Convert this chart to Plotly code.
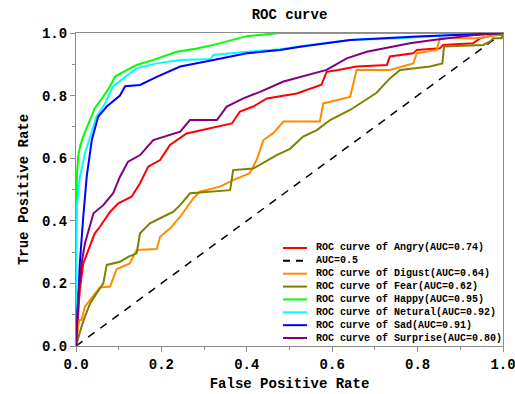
import plotly.graph_objects as go

# ---------------- data ----------------
classes = ["Angry", "Digust", "Fear", "Happy", "Netural", "Sad", "Surprise"]
auc_values = [0.74, 0.64, 0.62, 0.95, 0.92, 0.91, 0.80]
colors = ["red", "darkorange", "olive", "lime", "cyan", "blue", "purple"]

angry_fpr = [0, 0.004, 0.009, 0.017, 0.029, 0.044, 0.056, 0.08, 0.099, 0.13, 0.15, 0.169, 0.197, 0.22,
             0.259, 0.314, 0.365, 0.384, 0.415, 0.447, 0.517, 0.575, 0.587, 0.614, 0.657, 0.728, 0.735,
             0.79, 0.798, 0.852, 0.86, 0.93, 0.946, 1.0]
angry_tpr = [0, 0.08, 0.179, 0.264, 0.307, 0.36, 0.381, 0.429, 0.456, 0.477, 0.52, 0.573, 0.594, 0.642,
             0.679, 0.695, 0.711, 0.749, 0.765, 0.791, 0.807, 0.835, 0.876, 0.882, 0.893, 0.898, 0.925,
             0.935, 0.946, 0.951, 0.962, 0.967, 0.983, 1.0]

digust_fpr = [0, 0.003, 0.005, 0.008, 0.013, 0.021, 0.033, 0.056, 0.08, 0.095, 0.126, 0.142, 0.189, 0.197,
              0.22, 0.244, 0.275, 0.29, 0.337, 0.368, 0.407, 0.423, 0.431, 0.439, 0.462, 0.486, 0.571,
              0.579, 0.642, 0.657, 0.735, 0.79, 0.798, 0.845, 0.852, 0.938, 0.993, 1.0]
digust_tpr = [0, 0.04, 0.062, 0.083, 0.083, 0.126, 0.147, 0.187, 0.19, 0.245, 0.264, 0.307, 0.31, 0.349,
              0.375, 0.413, 0.472, 0.493, 0.509, 0.53, 0.552, 0.594, 0.626, 0.658, 0.68, 0.717, 0.717,
              0.775, 0.796, 0.882, 0.882, 0.903, 0.935, 0.946, 0.983, 0.983, 0.994, 1.0]

fear_fpr = [0, 0.005, 0.013, 0.021, 0.033, 0.048, 0.064, 0.072, 0.103, 0.122, 0.142, 0.15, 0.173, 0.204,
            0.228, 0.244, 0.267, 0.361, 0.368, 0.415, 0.47, 0.501, 0.532, 0.564, 0.595, 0.642, 0.665,
            0.704, 0.735, 0.759, 0.829, 0.858, 0.862, 0.954, 0.97, 0.977, 0.997, 1.0]
fear_tpr = [0, 0.025, 0.062, 0.094, 0.136, 0.168, 0.20, 0.259, 0.269, 0.285, 0.296, 0.36, 0.392, 0.413,
            0.429, 0.45, 0.488, 0.498, 0.562, 0.567, 0.61, 0.63, 0.669, 0.69, 0.722, 0.754, 0.775,
            0.809, 0.855, 0.882, 0.893, 0.903, 0.957, 0.962, 0.973, 0.983, 0.983, 1.0]

happy_fpr = [0, 0.0, 0.002, 0.005, 0.010, 0.017, 0.029, 0.044, 0.064, 0.08, 0.091, 0.111, 0.142, 0.181,
             0.236, 0.28, 0.322, 0.36, 0.40, 0.478, 1.0]
happy_tpr = [0, 0.30, 0.54, 0.605, 0.64, 0.67, 0.71, 0.76, 0.797, 0.83, 0.86, 0.876, 0.898, 0.914,
             0.94, 0.95, 0.962, 0.975, 0.99, 1.0, 1.0]

netural_fpr = [0, 0.0, 0.002, 0.009, 0.021, 0.033, 0.048, 0.068, 0.087, 0.111, 0.142, 0.189, 0.244,
               0.315, 0.322, 0.40, 0.478, 0.548, 0.642, 0.759, 0.876, 0.953, 1.0]
netural_tpr = [0, 0.2, 0.445, 0.54, 0.616, 0.67, 0.733, 0.775, 0.83, 0.855, 0.887, 0.903, 0.914,
               0.917, 0.93, 0.94, 0.948, 0.962, 0.978, 0.983, 0.994, 0.996, 1.0]

sad_fpr = [0, 0.002, 0.005, 0.009, 0.017, 0.025, 0.037, 0.052, 0.072, 0.103, 0.115, 0.15, 0.189, 0.244,
           0.322, 0.40, 0.478, 0.525, 0.642, 0.798, 0.953, 1.0]
sad_tpr = [0, 0.05, 0.16, 0.265, 0.413, 0.54, 0.658, 0.733, 0.765, 0.80, 0.83, 0.834, 0.86, 0.893,
           0.914, 0.935, 0.946, 0.956, 0.978, 0.989, 0.997, 1.0]

surprise_fpr = [0, 0.003, 0.005, 0.013, 0.021, 0.041, 0.064, 0.087, 0.103, 0.122, 0.15, 0.181, 0.22,
                0.244, 0.267, 0.33, 0.353, 0.392, 0.431, 0.486, 0.587, 0.634, 0.681, 0.782, 0.837,
                0.938, 0.993, 1.0]
surprise_tpr = [0, 0.08, 0.157, 0.264, 0.328, 0.424, 0.45, 0.488, 0.541, 0.589, 0.61, 0.658, 0.674,
                0.685, 0.722, 0.722, 0.765, 0.791, 0.812, 0.845, 0.882, 0.919, 0.94, 0.967, 0.978,
                0.994, 0.999, 1.0]

chance_fpr = [0, 1]
chance_tpr = [0, 1]
chance_label = "AUC=0.5"

curves_fpr = [angry_fpr, digust_fpr, fear_fpr, happy_fpr, netural_fpr, sad_fpr, surprise_fpr]
curves_tpr = [angry_tpr, digust_tpr, fear_tpr, happy_tpr, netural_tpr, sad_tpr, surprise_tpr]

x_ticks = [0.0, 0.2, 0.4, 0.6, 0.8, 1.0]
y_ticks = [0.0, 0.2, 0.4, 0.6, 0.8, 1.0]

# ---------------- figure ----------------
FONT = "Liberation Mono"
fig = go.Figure()

labels = []
for i, name in enumerate(classes):
    lab = f"ROC curve of {name}(AUC={auc_values[i]:.2f})"
    labels.append(lab)
    fig.add_trace(go.Scatter(x=curves_fpr[i], y=curves_tpr[i], mode="lines", name=lab,
                             line=dict(color=colors[i], width=2), showlegend=False))
    if i == 0:
        fig.add_trace(go.Scatter(x=chance_fpr, y=chance_tpr, mode="lines", name=chance_label,
                                 line=dict(color="black", width=1.5, dash="8px,7px"), showlegend=False))

# manual compact legend (order as in reference)
leg_labels = [labels[0], chance_label] + labels[1:]
leg_colors = [colors[0], "black"] + colors[1:]
leg_dash = ["solid", "dash"] + ["solid"] * 6
shapes = []
annotations = []
plot_top, plot_h = 33, 313
for k, lab in enumerate(leg_labels):
    py = 248 + k * 12.86
    yp = (plot_top + plot_h - py) / plot_h
    shapes.append(dict(type="line", xref="paper", yref="paper", x0=0.4848, x1=0.541, y0=yp, y1=yp,
                       line=dict(color=leg_colors[k], width=2,
                                 dash=("7px,6px" if leg_dash[k] == "dash" else "solid"))))
    annotations.append(dict(text=lab, xref="paper", yref="paper", x=0.557, y=yp, xanchor="left",
                            yanchor="middle", showarrow=False,
                            font=dict(family=FONT, size=10, color="black", weight="bold")))

axis_common = dict(range=[0, 1], showline=True, linecolor="#8c8c8c", linewidth=1, mirror=True,
                   ticks="outside", ticklen=5, tickcolor="#8c8c8c", showgrid=False, zeroline=False,
                   tickformat=".1f", automargin=False, ticklabeloverflow="allow",
                   tickfont=dict(family=FONT, size=14, color="black", weight="bold"),
                   minor=dict(dtick=0.1, ticks="outside", ticklen=3, tickcolor="#8c8c8c", showgrid=False))

fig.update_layout(
    width=515, height=394,
    margin=dict(l=76, r=12, t=33, b=48, autoexpand=False),
    paper_bgcolor="white", plot_bgcolor="white",
    title=dict(text="ROC curve", x=(76 + 503) / 2 / 515, xanchor="center", y=1 - 14 / 394,
               yanchor="middle", yref="container", automargin=False,
               font=dict(family=FONT, size=14, color="black", weight="bold")),
    xaxis=dict(**axis_common, tickvals=x_ticks,
               title=dict(text="False Positive Rate", standoff=6,
                          font=dict(family=FONT, size=14, color="black", weight="bold"))),
    yaxis=dict(**axis_common, tickvals=y_ticks,
               title=dict(text="True Positive Rate", standoff=10,
                          font=dict(family=FONT, size=14, color="black", weight="bold"))),
    shapes=shapes,
    annotations=annotations,
    showlegend=False,
)

fig.write_html("out.html")
